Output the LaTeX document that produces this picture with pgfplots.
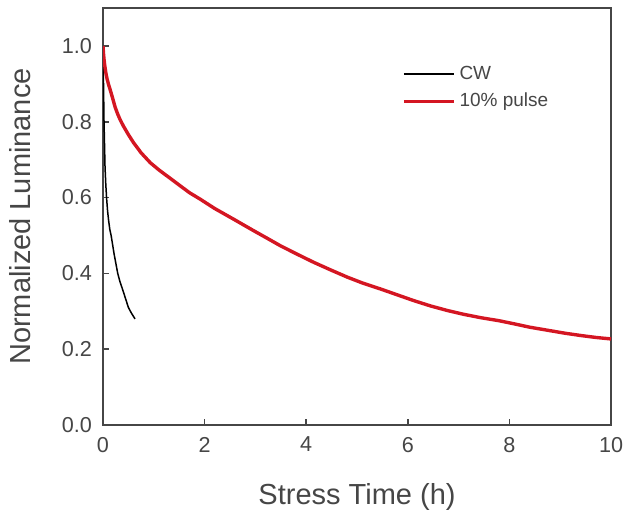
\documentclass[border=0pt]{standalone}
\usepackage{pgfplots}
\pgfplotsset{compat=1.18}
\usepackage{fontspec}
\setmainfont{Liberation Sans}
\definecolor{pulsered}{RGB}{212,22,34}
\definecolor{axisgray}{RGB}{70,70,70}
\begin{document}
\begin{tikzpicture}
% page = 312pt x 257.5pt, axis box bottom-left at (0,0)
\useasboundingbox (-51.5pt,-45pt) rectangle (260.5pt,212.5pt);
\begin{axis}[
  scale only axis,
  width=254pt, height=208.5pt,
  xmin=0, xmax=10, ymin=0, ymax=1.1,
  xtick={0,2,...,10},
  ytick={0,0.2,...,1.0},
  yticklabel style={/pgf/number format/fixed, /pgf/number format/fixed zerofill,
    /pgf/number format/precision=1, xshift=-2pt},
  xticklabel style={yshift=-2.5pt},
  /pgf/number format/assume math mode=true,
  tick align=inside,
  tick pos=left,
  major tick length=3pt,
  axis line style={line width=0.8pt, axisgray},
  tick style={line width=0.8pt, draw=axisgray},
  tick label style={font=\fontsize{10.8}{12}\selectfont, text=axisgray},
  xlabel={Stress Time (h)},
  ylabel={Normalized Luminance},
  every axis x label/.style={at={(axis description cs:0.5,-0.173)}, anchor=center,
    font=\fontsize{14.5}{16}\selectfont, text=axisgray},
  every axis y label/.style={at={(axis description cs:-0.163,0.5)}, rotate=90, anchor=center,
    font=\fontsize{14.5}{16}\selectfont, text=axisgray},
  legend style={draw=none, fill=none, inner sep=0pt, at={(0.588,0.872)}, anchor=north west,
    font=\fontsize{9.5}{11}\selectfont, text=axisgray, row sep=1.5pt},
  legend cell align=left,
  legend image code/.code={\draw[#1] (0pt,0pt) -- (25pt,0pt);},
]
\addplot[black, line width=0.75pt] coordinates {
(0,1.0) (0.005,0.95) (0.01,0.9) (0.015,0.85) (0.02,0.8) (0.03,0.74) (0.04,0.68)
(0.055,0.635) (0.07,0.6) (0.09,0.565) (0.11,0.54) (0.135,0.515) (0.16,0.5)
(0.19,0.475) (0.22,0.45) (0.255,0.425) (0.29,0.4) (0.33,0.38) (0.38,0.36)
(0.44,0.335) (0.5,0.31) (0.56,0.295) (0.63,0.28)
};
\addlegendentry{CW}
\addplot[pulsered, line width=1.7pt] coordinates {
(0,1.0) (0.01,0.98) (0.02,0.965) (0.035,0.948) (0.055,0.93) (0.08,0.913) (0.11,0.898)
(0.14,0.885) (0.19,0.862) (0.24,0.838) (0.29,0.82) (0.335,0.806) (0.4,0.789) (0.5,0.766)
(0.60,0.745) (0.75,0.718) (0.93,0.692) (1.1,0.673) (1.26,0.657) (1.5,0.633)
(1.7,0.613) (1.91,0.596) (2.2,0.571) (2.57,0.543) (2.96,0.513)
(3.2,0.495) (3.49,0.473) (3.8,0.452) (4.15,0.429) (4.5,0.408) (4.81,0.390)
(5.1,0.375) (5.46,0.359) (5.8,0.343) (6.12,0.328) (6.45,0.314) (6.78,0.302)
(7.1,0.292) (7.44,0.283) (7.8,0.275) (8.09,0.267) (8.4,0.258) (8.75,0.250)
(9.1,0.242) (9.41,0.236) (9.7,0.231) (10.0,0.227)
};
\addlegendentry{10\% pulse}
\end{axis}
\end{tikzpicture}
\end{document}
